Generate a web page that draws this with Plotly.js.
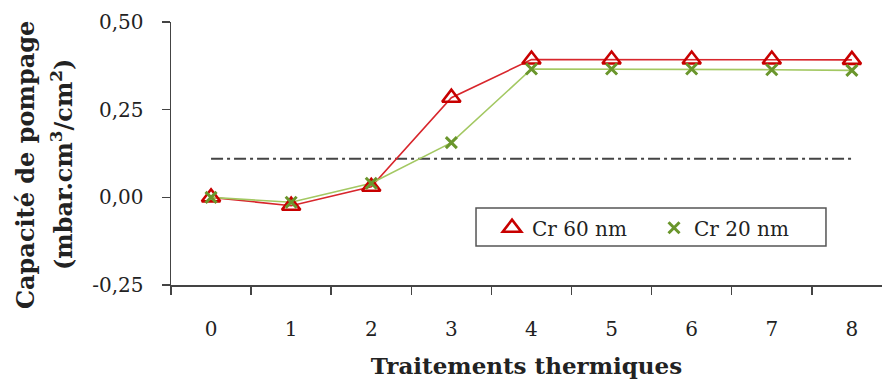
<!DOCTYPE html>
<html>
<head>
<meta charset="utf-8">
<script src="https://cdn.plot.ly/plotly-3.0.1.min.js"></script>
<style>html,body{margin:0;padding:0;background:#fff;}#chart{width:882px;height:381px;}</style>
</head>
<body>
<div id="chart"></div>
<script>
const categories = ['0','1','2','3','4','5','6','7','8'];
const cr60 = [0.000, -0.024, 0.030, 0.284, 0.393, 0.393, 0.393, 0.393, 0.392];
const cr20 = [0.000, -0.014, 0.040, 0.156, 0.366, 0.366, 0.366, 0.364, 0.362];
const thresholdX = ['0','8'];
const thresholdY = [0.11, 0.11];
const yTickVals = [-0.25, 0, 0.25, 0.5];
const yTickText = ['-0,25', '0,00', '0,25', '0,50'];
const seriesNames = ['Cr 60 nm', 'Cr 20 nm'];
const xTitle = 'Traitements thermiques';
const yTitleLines = ['Capacité de pompage', '(mbar.cm<sup>3</sup>/cm<sup>2</sup>)'];

const FONT = 'DejaVu Serif, serif';
const RED = '#c80000', RED_LINE = '#d8262c';
const GREEN = '#6a962c', GREEN_LINE = '#a3c862';

const traces = [
  {
    x: thresholdX, y: thresholdY, type: 'scatter', mode: 'lines',
    line: {color: '#444', width: 2.2, dash: '12px,4px,3px,4px'},
    showlegend: false, hoverinfo: 'skip'
  },
  {
    x: categories, y: cr60, type: 'scatter', mode: 'lines',
    line: {color: RED_LINE, width: 1.6}, showlegend: false
  },
  {
    x: categories, y: cr20, type: 'scatter', mode: 'lines',
    line: {color: GREEN_LINE, width: 1.6}, showlegend: false
  },
  {
    x: categories, y: cr60, name: seriesNames[0], type: 'scatter', mode: 'markers',
    marker: {symbol: 'triangle-up-open', size: 16, color: RED, line: {width: 2.6, color: RED}}
  },
  {
    x: categories, y: cr20, name: seriesNames[1], type: 'scatter', mode: 'markers',
    marker: {symbol: 'x-thin-open', size: 11, color: GREEN, line: {width: 3, color: GREEN}}
  }
];

const layout = {
  width: 882, height: 381,
  margin: {l: 171, r: 0, t: 22, b: 96},
  paper_bgcolor: '#fff', plot_bgcolor: '#fff',
  font: {family: FONT, size: 20, color: '#222'},
  showlegend: true,
  legend: {
    x: 0.4515, y: 0.292, xanchor: 'left', yanchor: 'top',
    orientation: 'h', borderwidth: 0, bgcolor: 'rgba(0,0,0,0)',
    font: {family: FONT, size: 20, color: '#222'},
    entrywidth: 117, itemwidth: 30, tracegroupgap: 0
  },
  shapes: [{
    type: 'rect', xref: 'paper', yref: 'paper',
    x0: 0.429, x1: 0.9212, y0: 0.1483, y1: 0.2928,
    line: {color: '#555', width: 1.5}, fillcolor: '#fff', layer: 'below'
  }],
  annotations: [
    {text: yTitleLines[0], xref: 'paper', yref: 'paper', x: -0.2053, y: 0.456,
     xanchor: 'center', yanchor: 'middle', textangle: -90, showarrow: false,
     font: {family: FONT, size: 24, color: '#222', weight: 'bold'}},
    {text: yTitleLines[1], xref: 'paper', yref: 'paper', x: -0.1533, y: 0.456,
     xanchor: 'center', yanchor: 'middle', textangle: -90, showarrow: false,
     font: {family: FONT, size: 24, color: '#222', weight: 'bold'}}
  ],
  xaxis: {
    type: 'category', categoryorder: 'array', categoryarray: categories,
    range: [-0.5, 8.376],
    showline: true, linecolor: '#444', linewidth: 1.5,
    ticks: 'outside', ticklen: 8, tickwidth: 1.5, tickcolor: '#444',
    tickson: 'boundaries', showgrid: false, zeroline: false,
    ticklabelstandoff: 25,
    tickfont: {family: FONT, size: 20, color: '#222'},
    title: {text: xTitle, font: {family: FONT, size: 23, color: '#222', weight: 'bold'}, standoff: 18}
  },
  yaxis: {
    range: [-0.25, 0.5], tickvals: yTickVals, ticktext: yTickText,
    showline: true, linecolor: '#444', linewidth: 1.5,
    ticks: 'outside', ticklen: 8, tickwidth: 1.5, tickcolor: '#444',
    showgrid: false, zeroline: false,
    ticklabelstandoff: 14,
    tickfont: {family: FONT, size: 20, color: '#222'}
  }
};

Plotly.newPlot('chart', traces, layout, {displayModeBar: false, staticPlot: true});
</script>
</body>
</html>
